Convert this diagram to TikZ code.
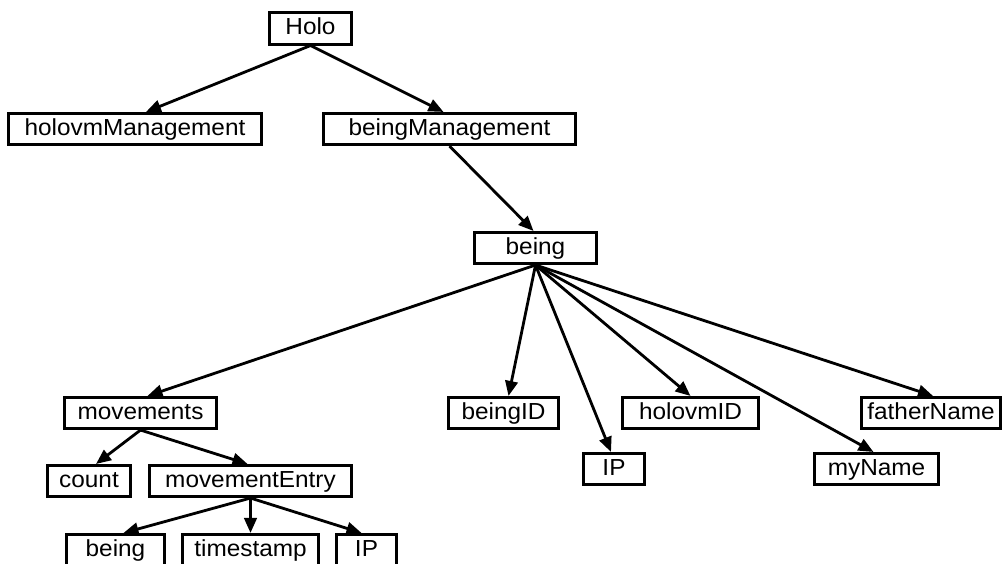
\documentclass[tikz,border=0pt]{standalone}
\usepackage{fontspec}
\setmainfont{Liberation Sans}[FakeStretch=1.05]
\usetikzlibrary{arrows.meta}
\begin{document}
\begin{tikzpicture}[x=1pt,y=-1pt,
  box/.style={draw, line width=2.6pt, inner sep=0pt, minimum height=31.5pt,
    text height=17pt, text depth=5pt,
    font=\fontsize{23.2}{27}\selectfont, anchor=center},
  link/.style={line width=2.8pt, -{Triangle[length=15pt,width=12.5pt]}}]
\useasboundingbox (0,0) rectangle (1004,563);
\clip (0,0) rectangle (1004,563);

% top levels
\node[box, minimum width=82.5pt]  (holo)      at (310.5,28.5) {Holo};
\node[box, minimum width=253.5pt] (holovm)    at (135,129)    {holovmManagement};
\node[box, minimum width=252.5pt] (beingmgmt) at (449.5,129)  {beingManagement};
\node[box, minimum width=122.5pt] (being)     at (535.5,248)  {being};

% fields of a being
\node[box, minimum width=152.5pt] (movements) at (140.5,413)  {movements};
\node[box, minimum width=110.5pt] (beingid)   at (503.5,413)  {beingID};
\node[box, minimum width=136.5pt] (holovmid)  at (690.5,413)  {holovmID};
\node[box, minimum width=139.5pt] (father)    at (931,413)    {fatherName};
\node[box, minimum width=61.5pt]  (ip)        at (614,469)    {IP};
\node[box, minimum width=124.5pt] (myname)    at (876.5,469)  {myName};

% movement records
\node[box, minimum width=83.5pt]  (count)     at (89,481)     {count};
\node[box, minimum width=202.5pt] (entry)     at (250.5,481)  {movementEntry};
\node[box, minimum width=98.5pt]  (mbeing)    at (115.5,550)  {being};
\node[box, minimum width=136.5pt] (stamp)     at (250.5,550)  {timestamp};
\node[box, minimum width=60.5pt]  (mip)       at (366.5,550)  {IP};

% connectors
\draw[link] (holo.south) -- ([xshift=11pt]holovm.north);
\draw[link] (holo.south) -- ([xshift=-6pt]beingmgmt.north);
\draw[link] (beingmgmt.south) -- ([xshift=-2pt]being.north);

\draw[link] (being.south) -- ([xshift=7pt]movements.north);
\draw[link] (being.south) -- ([xshift=5pt]beingid.north);
\draw[link] (being.south) -- ([xshift=-3pt]ip.north);
\draw[link] (being.south) -- (holovmid.north);
\draw[link] (being.south) -- ([xshift=-3pt]myname.north);
\draw[link] (being.south) -- ([xshift=2pt]father.north);

\draw[link] (movements.south) -- ([xshift=7pt]count.north);
\draw[link] (movements.south) -- ([xshift=-3pt]entry.north);

\draw[link] (entry.south) -- ([xshift=8pt]mbeing.north);
\draw[link] (entry.south) -- (stamp.north);
\draw[link] (entry.south) -- ([xshift=-5pt]mip.north);
\end{tikzpicture}
\end{document}
